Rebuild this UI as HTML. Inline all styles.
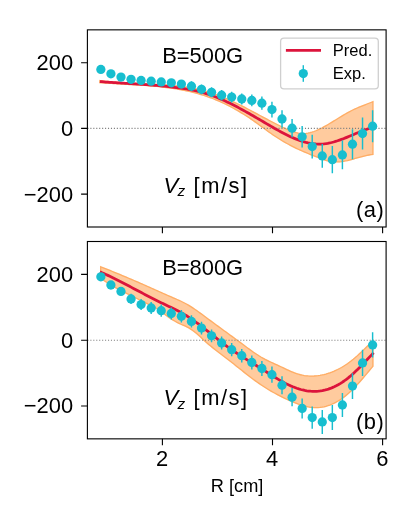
<!DOCTYPE html>
<html lang="en"><head><meta charset="utf-8"><title>Vz</title>
<style>html,body{margin:0;padding:0;background:#fff;}body{width:416px;height:520px;overflow:hidden;font-family:"Liberation Sans",sans-serif;}svg{display:block;will-change:transform;}</style></head>
<body>
<svg width="416" height="520" viewBox="0 0 416 520" font-family="'Liberation Sans', sans-serif" fill="#000">
<rect width="416" height="520" fill="#fff"/>
<g opacity="0.4"><path d="M99.90 80.58L101.86 80.83L103.83 81.07L105.79 81.29L107.76 81.49L109.72 81.69L111.68 81.87L113.65 82.03L115.61 82.19L117.58 82.33L119.54 82.47L121.50 82.59L123.47 82.71L125.43 82.82L127.40 82.92L129.36 83.02L131.32 83.11L133.29 83.20L135.25 83.29L137.22 83.38L139.18 83.46L141.14 83.54L143.11 83.62L145.07 83.71L147.04 83.79L149.00 83.88L150.96 83.97L152.93 84.07L154.89 84.17L156.86 84.28L158.82 84.39L160.78 84.51L162.75 84.65L164.71 84.79L166.68 84.94L168.64 85.10L170.61 85.27L172.57 85.46L174.53 85.66L176.50 85.87L178.46 86.10L180.43 86.35L182.39 86.61L184.35 86.89L186.32 87.19L188.28 87.51L190.25 87.85L192.21 88.21L194.17 88.59L196.14 88.99L198.10 89.42L200.07 89.88L202.03 90.35L203.99 90.86L205.96 91.39L207.92 91.95L209.89 92.53L211.85 93.15L213.81 93.80L215.78 94.48L217.74 95.19L219.71 95.93L221.67 96.70L223.63 97.49L225.60 98.32L227.56 99.17L229.53 100.04L231.49 100.94L233.45 101.85L235.42 102.79L237.38 103.74L239.35 104.71L241.31 105.69L243.27 106.69L245.24 107.70L247.20 108.72L249.17 109.74L251.13 110.78L253.09 111.82L255.06 112.87L257.02 113.92L258.99 114.97L260.95 116.03L262.91 117.08L264.88 118.13L266.84 119.17L268.81 120.22L270.77 121.25L272.73 122.27L274.70 123.29L276.66 124.29L278.63 125.29L280.59 126.26L282.55 127.23L284.52 128.17L286.48 129.08L288.45 129.94L290.41 130.74L292.37 131.47L294.34 132.11L296.30 132.66L298.27 133.09L300.23 133.39L302.19 133.56L304.16 133.57L306.12 133.43L308.09 133.14L310.05 132.71L312.02 132.16L313.98 131.50L315.94 130.74L317.91 129.89L319.87 128.96L321.84 127.97L323.80 126.93L325.76 125.84L327.73 124.71L329.69 123.56L331.66 122.37L333.62 121.17L335.58 119.96L337.55 118.75L339.51 117.54L341.48 116.34L343.44 115.16L345.40 114.01L347.37 112.89L349.33 111.80L351.30 110.77L353.26 109.79L355.22 108.86L357.19 107.98L359.15 107.13L361.12 106.32L363.08 105.53L365.04 104.77L367.01 104.01L368.97 103.26L370.94 102.51L372.90 101.75L372.90 154.45L370.94 154.68L368.97 154.99L367.01 155.37L365.04 155.80L363.08 156.28L361.12 156.80L359.15 157.34L357.19 157.89L355.22 158.45L353.26 159.01L351.30 159.54L349.33 160.05L347.37 160.52L345.40 160.94L343.44 161.31L341.48 161.60L339.51 161.81L337.55 161.93L335.58 161.95L333.62 161.86L331.66 161.65L329.69 161.31L327.73 160.86L325.76 160.31L323.80 159.68L321.84 158.98L319.87 158.24L317.91 157.47L315.94 156.69L313.98 155.90L312.02 155.11L310.05 154.32L308.09 153.52L306.12 152.71L304.16 151.88L302.19 151.02L300.23 150.15L298.27 149.24L296.30 148.31L294.34 147.35L292.37 146.36L290.41 145.34L288.45 144.29L286.48 143.20L284.52 142.09L282.55 140.94L280.59 139.76L278.63 138.54L276.66 137.29L274.70 136.00L272.73 134.67L270.77 133.31L268.81 131.91L266.84 130.49L264.88 129.05L262.91 127.60L260.95 126.15L258.99 124.71L257.02 123.28L255.06 121.88L253.09 120.50L251.13 119.15L249.17 117.83L247.20 116.54L245.24 115.28L243.27 114.04L241.31 112.83L239.35 111.65L237.38 110.50L235.42 109.38L233.45 108.29L231.49 107.23L229.53 106.20L227.56 105.19L225.60 104.22L223.63 103.28L221.67 102.36L219.71 101.48L217.74 100.63L215.78 99.81L213.81 99.02L211.85 98.26L209.89 97.53L207.92 96.82L205.96 96.15L203.99 95.50L202.03 94.88L200.07 94.29L198.10 93.72L196.14 93.18L194.17 92.65L192.21 92.16L190.25 91.68L188.28 91.23L186.32 90.80L184.35 90.39L182.39 90.00L180.43 89.63L178.46 89.28L176.50 88.94L174.53 88.62L172.57 88.32L170.61 88.04L168.64 87.77L166.68 87.51L164.71 87.27L162.75 87.04L160.78 86.82L158.82 86.62L156.86 86.42L154.89 86.24L152.93 86.07L150.96 85.90L149.00 85.75L147.04 85.60L145.07 85.46L143.11 85.32L141.14 85.19L139.18 85.07L137.22 84.95L135.25 84.83L133.29 84.72L131.32 84.61L129.36 84.50L127.40 84.39L125.43 84.28L123.47 84.17L121.50 84.06L119.54 83.95L117.58 83.83L115.61 83.72L113.65 83.59L111.68 83.47L109.72 83.34L107.76 83.20L105.79 83.05L103.83 82.90L101.86 82.74L99.90 82.58Z" fill="#ff7f0e" stroke="#ff7f0e" stroke-width="1.3" stroke-linejoin="miter"/></g>
<path d="M99.90 80.58L101.86 80.83L103.83 81.07L105.79 81.29L107.76 81.49L109.72 81.69L111.68 81.87L113.65 82.03L115.61 82.19L117.58 82.33L119.54 82.47L121.50 82.59L123.47 82.71L125.43 82.82L127.40 82.92L129.36 83.02L131.32 83.11L133.29 83.20L135.25 83.29L137.22 83.38L139.18 83.46L141.14 83.54L143.11 83.62L145.07 83.71L147.04 83.79L149.00 83.88L150.96 83.97L152.93 84.07L154.89 84.17L156.86 84.28L158.82 84.39L160.78 84.51L162.75 84.65L164.71 84.79L166.68 84.94L168.64 85.10L170.61 85.27L172.57 85.46L174.53 85.66L176.50 85.87L178.46 86.10L180.43 86.35L182.39 86.61L184.35 86.89L186.32 87.19L188.28 87.51L190.25 87.85L192.21 88.21L194.17 88.59L196.14 88.99L198.10 89.42L200.07 89.88L202.03 90.35L203.99 90.86L205.96 91.39L207.92 91.95L209.89 92.53L211.85 93.15L213.81 93.80L215.78 94.48L217.74 95.19L219.71 95.93L221.67 96.70L223.63 97.49L225.60 98.32L227.56 99.17L229.53 100.04L231.49 100.94L233.45 101.85L235.42 102.79L237.38 103.74L239.35 104.71L241.31 105.69L243.27 106.69L245.24 107.70L247.20 108.72L249.17 109.74L251.13 110.78L253.09 111.82L255.06 112.87L257.02 113.92L258.99 114.97L260.95 116.03L262.91 117.08L264.88 118.13L266.84 119.17L268.81 120.22L270.77 121.25L272.73 122.27L274.70 123.29L276.66 124.29L278.63 125.29L280.59 126.26L282.55 127.23L284.52 128.17L286.48 129.08L288.45 129.94L290.41 130.74L292.37 131.47L294.34 132.11L296.30 132.66L298.27 133.09L300.23 133.39L302.19 133.56L304.16 133.57L306.12 133.43L308.09 133.14L310.05 132.71L312.02 132.16L313.98 131.50L315.94 130.74L317.91 129.89L319.87 128.96L321.84 127.97L323.80 126.93L325.76 125.84L327.73 124.71L329.69 123.56L331.66 122.37L333.62 121.17L335.58 119.96L337.55 118.75L339.51 117.54L341.48 116.34L343.44 115.16L345.40 114.01L347.37 112.89L349.33 111.80L351.30 110.77L353.26 109.79L355.22 108.86L357.19 107.98L359.15 107.13L361.12 106.32L363.08 105.53L365.04 104.77L367.01 104.01L368.97 103.26L370.94 102.51L372.90 101.75L372.90 154.45L370.94 154.68L368.97 154.99L367.01 155.37L365.04 155.80L363.08 156.28L361.12 156.80L359.15 157.34L357.19 157.89L355.22 158.45L353.26 159.01L351.30 159.54L349.33 160.05L347.37 160.52L345.40 160.94L343.44 161.31L341.48 161.60L339.51 161.81L337.55 161.93L335.58 161.95L333.62 161.86L331.66 161.65L329.69 161.31L327.73 160.86L325.76 160.31L323.80 159.68L321.84 158.98L319.87 158.24L317.91 157.47L315.94 156.69L313.98 155.90L312.02 155.11L310.05 154.32L308.09 153.52L306.12 152.71L304.16 151.88L302.19 151.02L300.23 150.15L298.27 149.24L296.30 148.31L294.34 147.35L292.37 146.36L290.41 145.34L288.45 144.29L286.48 143.20L284.52 142.09L282.55 140.94L280.59 139.76L278.63 138.54L276.66 137.29L274.70 136.00L272.73 134.67L270.77 133.31L268.81 131.91L266.84 130.49L264.88 129.05L262.91 127.60L260.95 126.15L258.99 124.71L257.02 123.28L255.06 121.88L253.09 120.50L251.13 119.15L249.17 117.83L247.20 116.54L245.24 115.28L243.27 114.04L241.31 112.83L239.35 111.65L237.38 110.50L235.42 109.38L233.45 108.29L231.49 107.23L229.53 106.20L227.56 105.19L225.60 104.22L223.63 103.28L221.67 102.36L219.71 101.48L217.74 100.63L215.78 99.81L213.81 99.02L211.85 98.26L209.89 97.53L207.92 96.82L205.96 96.15L203.99 95.50L202.03 94.88L200.07 94.29L198.10 93.72L196.14 93.18L194.17 92.65L192.21 92.16L190.25 91.68L188.28 91.23L186.32 90.80L184.35 90.39L182.39 90.00L180.43 89.63L178.46 89.28L176.50 88.94L174.53 88.62L172.57 88.32L170.61 88.04L168.64 87.77L166.68 87.51L164.71 87.27L162.75 87.04L160.78 86.82L158.82 86.62L156.86 86.42L154.89 86.24L152.93 86.07L150.96 85.90L149.00 85.75L147.04 85.60L145.07 85.46L143.11 85.32L141.14 85.19L139.18 85.07L137.22 84.95L135.25 84.83L133.29 84.72L131.32 84.61L129.36 84.50L127.40 84.39L125.43 84.28L123.47 84.17L121.50 84.06L119.54 83.95L117.58 83.83L115.61 83.72L113.65 83.59L111.68 83.47L109.72 83.34L107.76 83.20L105.79 83.05L103.83 82.90L101.86 82.74L99.90 82.58Z" fill="none" stroke="#ff7f0e" stroke-opacity="0.4" stroke-width="1.3" stroke-linejoin="miter"/>
<line x1="87.4" x2="386.1" y1="128.43" y2="128.43" stroke="#808080" stroke-width="1.11" stroke-dasharray="1.11 1.83"/>
<path d="M99.90 81.58L101.86 81.73L103.83 81.88L105.79 82.03L107.76 82.17L109.72 82.30L111.68 82.44L113.65 82.57L115.61 82.69L117.58 82.82L119.54 82.94L121.50 83.06L123.47 83.18L125.43 83.30L127.40 83.42L129.36 83.54L131.32 83.67L133.29 83.79L135.25 83.91L137.22 84.04L139.18 84.17L141.14 84.30L143.11 84.43L145.07 84.57L147.04 84.71L149.00 84.85L150.96 85.00L152.93 85.16L154.89 85.32L156.86 85.48L158.82 85.66L160.78 85.84L162.75 86.02L164.71 86.22L166.68 86.42L168.64 86.63L170.61 86.85L172.57 87.08L174.53 87.31L176.50 87.56L178.46 87.82L180.43 88.09L182.39 88.38L184.35 88.68L186.32 89.00L188.28 89.34L190.25 89.71L192.21 90.09L194.17 90.50L196.14 90.93L198.10 91.40L200.07 91.89L202.03 92.41L203.99 92.97L205.96 93.56L207.92 94.19L209.89 94.85L211.85 95.54L213.81 96.27L215.78 97.03L217.74 97.82L219.71 98.63L221.67 99.48L223.63 100.35L225.60 101.25L227.56 102.17L229.53 103.11L231.49 104.08L233.45 105.07L235.42 106.07L237.38 107.10L239.35 108.14L241.31 109.20L243.27 110.27L245.24 111.36L247.20 112.46L249.17 113.57L251.13 114.69L253.09 115.81L255.06 116.95L257.02 118.09L258.99 119.24L260.95 120.39L262.91 121.55L264.88 122.71L266.84 123.86L268.81 125.02L270.77 126.16L272.73 127.30L274.70 128.43L276.66 129.54L278.63 130.63L280.59 131.70L282.55 132.75L284.52 133.77L286.48 134.76L288.45 135.72L290.41 136.64L292.37 137.52L294.34 138.36L296.30 139.16L298.27 139.91L300.23 140.60L302.19 141.24L304.16 141.83L306.12 142.36L308.09 142.82L310.05 143.21L312.02 143.54L313.98 143.80L315.94 143.98L317.91 144.08L319.87 144.10L321.84 144.03L323.80 143.88L325.76 143.65L327.73 143.33L329.69 142.95L331.66 142.49L333.62 141.98L335.58 141.41L337.55 140.79L339.51 140.12L341.48 139.42L343.44 138.68L345.40 137.91L347.37 137.12L349.33 136.31L351.30 135.49L353.26 134.67L355.22 133.84L357.19 133.02L359.15 132.22L361.12 131.42L363.08 130.65L365.04 129.91L367.01 129.20L368.97 128.52L370.94 127.90L372.90 127.32" fill="none" stroke="#dc143c" stroke-width="2.78" stroke-linecap="butt" stroke-linejoin="round"/>
<path d="M191.44 81.35V90.95M201.50 84.45V94.25M211.56 87.30V97.30M221.63 90.00V100.40M231.69 91.70V102.50M241.76 93.40V104.60M251.82 94.50V106.30M261.89 96.45V109.85M271.95 101.80V117.40M282.02 110.30V127.70M292.08 119.10V137.30M302.15 126.00V147.60M312.21 134.70V158.50M322.28 144.10V167.70M332.34 146.10V173.30M342.41 140.60V169.20M352.48 129.20V159.20M362.54 117.55V149.55M372.61 110.20V142.20" stroke="#17becf" stroke-width="1.45" fill="none"/>
<g fill="#17becf"><circle cx="100.85" cy="69.40" r="4.63"/><circle cx="110.91" cy="73.80" r="4.63"/><circle cx="120.98" cy="77.10" r="4.63"/><circle cx="131.04" cy="79.30" r="4.63"/><circle cx="141.11" cy="80.40" r="4.63"/><circle cx="151.17" cy="81.15" r="4.63"/><circle cx="161.24" cy="81.90" r="4.63"/><circle cx="171.31" cy="82.85" r="4.63"/><circle cx="181.37" cy="84.10" r="4.63"/><circle cx="191.44" cy="86.15" r="4.63"/><circle cx="201.50" cy="89.35" r="4.63"/><circle cx="211.56" cy="92.30" r="4.63"/><circle cx="221.63" cy="95.20" r="4.63"/><circle cx="231.69" cy="97.10" r="4.63"/><circle cx="241.76" cy="99.00" r="4.63"/><circle cx="251.82" cy="100.40" r="4.63"/><circle cx="261.89" cy="103.15" r="4.63"/><circle cx="271.95" cy="109.60" r="4.63"/><circle cx="282.02" cy="119.00" r="4.63"/><circle cx="292.08" cy="128.20" r="4.63"/><circle cx="302.15" cy="136.80" r="4.63"/><circle cx="312.21" cy="146.60" r="4.63"/><circle cx="322.28" cy="155.90" r="4.63"/><circle cx="332.34" cy="159.70" r="4.63"/><circle cx="342.41" cy="154.90" r="4.63"/><circle cx="352.48" cy="144.20" r="4.63"/><circle cx="362.54" cy="133.55" r="4.63"/><circle cx="372.61" cy="126.20" r="4.63"/></g>
<rect x="87.4" y="29.85" width="298.70000000000005" height="197.15" fill="none" stroke="#000" stroke-width="1.11"/>
<text x="73.1" y="70.21" text-anchor="end" font-size="21.9">200</text>
<text x="73.1" y="135.93" text-anchor="end" font-size="21.9">0</text>
<text x="73.1" y="201.64" text-anchor="end" font-size="21.9">−200</text>
<path d="M87.4 62.71h-6.3M87.4 128.43h-6.3M87.4 194.14h-6.3M162.40 227.0v6.3M272.50 227.0v6.3M382.60 227.0v6.3" stroke="#000" stroke-width="1.11" fill="none"/>
<text x="162.2" y="63.25" font-size="21.9">B=500G</text>
<text x="356.1" y="216.60" font-size="21.9" letter-spacing="0.45">(a)</text>
<g><title>Vz [m/s]</title>
<text x="163.5" y="192.5" font-size="22.2" font-style="italic">V</text>
<text x="177.5" y="196.1" font-size="15.4" font-style="italic">z</text>
<text x="193.6" y="192.5" font-size="21.9" textLength="53.5" lengthAdjust="spacing">[m/s]</text>
</g>
<g opacity="0.4"><path d="M100.70 266.75L102.66 267.53L104.62 268.32L106.57 269.11L108.53 269.90L110.49 270.70L112.45 271.50L114.41 272.30L116.37 273.10L118.32 273.91L120.28 274.72L122.24 275.54L124.20 276.36L126.16 277.18L128.12 278.01L130.07 278.83L132.03 279.67L133.99 280.50L135.95 281.35L137.91 282.19L139.87 283.04L141.82 283.89L143.78 284.75L145.74 285.61L147.70 286.48L149.66 287.35L151.62 288.22L153.57 289.10L155.53 289.98L157.49 290.86L159.45 291.74L161.41 292.62L163.36 293.50L165.32 294.37L167.28 295.24L169.24 296.10L171.20 296.96L173.16 297.80L175.11 298.65L177.07 299.50L179.03 300.37L180.99 301.27L182.95 302.21L184.91 303.21L186.86 304.26L188.82 305.39L190.78 306.60L192.74 307.87L194.70 309.19L196.66 310.56L198.61 311.97L200.57 313.40L202.53 314.84L204.49 316.29L206.45 317.74L208.41 319.18L210.36 320.62L212.32 322.06L214.28 323.50L216.24 324.93L218.20 326.36L220.15 327.79L222.11 329.23L224.07 330.66L226.03 332.08L227.99 333.51L229.95 334.94L231.90 336.38L233.86 337.81L235.82 339.24L237.78 340.68L239.74 342.12L241.70 343.57L243.65 345.02L245.61 346.47L247.57 347.92L249.53 349.36L251.49 350.78L253.45 352.17L255.40 353.51L257.36 354.81L259.32 356.05L261.28 357.22L263.24 358.32L265.19 359.37L267.15 360.37L269.11 361.32L271.07 362.25L273.03 363.16L274.99 364.06L276.94 364.95L278.90 365.85L280.86 366.76L282.82 367.69L284.78 368.62L286.74 369.54L288.69 370.44L290.65 371.31L292.61 372.13L294.57 372.90L296.53 373.60L298.49 374.22L300.44 374.75L302.40 375.19L304.36 375.53L306.32 375.79L308.28 375.97L310.24 376.06L312.19 376.07L314.15 376.00L316.11 375.85L318.07 375.62L320.03 375.33L321.98 374.96L323.94 374.53L325.90 374.02L327.86 373.45L329.82 372.81L331.78 372.10L333.73 371.32L335.69 370.46L337.65 369.53L339.61 368.53L341.57 367.45L343.53 366.29L345.48 365.05L347.44 363.72L349.40 362.32L351.36 360.84L353.32 359.27L355.28 357.61L357.23 355.88L359.19 354.08L361.15 352.24L363.11 350.35L365.07 348.45L367.03 346.53L368.98 344.62L370.94 342.72L372.90 340.86L372.90 366.36L370.94 368.67L368.98 370.99L367.03 373.32L365.07 375.65L363.11 377.96L361.15 380.24L359.19 382.48L357.23 384.66L355.28 386.76L353.32 388.79L351.36 390.71L349.40 392.54L347.44 394.26L345.48 395.87L343.53 397.38L341.57 398.78L339.61 400.08L337.65 401.28L335.69 402.38L333.73 403.37L331.78 404.26L329.82 405.05L327.86 405.73L325.90 406.31L323.94 406.79L321.98 407.16L320.03 407.43L318.07 407.59L316.11 407.65L314.15 407.61L312.19 407.47L310.24 407.24L308.28 406.91L306.32 406.51L304.36 406.03L302.40 405.48L300.44 404.86L298.49 404.19L296.53 403.46L294.57 402.69L292.61 401.87L290.65 401.02L288.69 400.14L286.74 399.23L284.78 398.30L282.82 397.35L280.86 396.38L278.90 395.38L276.94 394.35L274.99 393.29L273.03 392.21L271.07 391.09L269.11 389.94L267.15 388.76L265.19 387.54L263.24 386.28L261.28 384.99L259.32 383.66L257.36 382.28L255.40 380.87L253.45 379.43L251.49 377.97L249.53 376.47L247.57 374.96L245.61 373.43L243.65 371.88L241.70 370.33L239.74 368.77L237.78 367.21L235.82 365.65L233.86 364.09L231.90 362.54L229.95 361.00L227.99 359.47L226.03 357.95L224.07 356.44L222.11 354.95L220.15 353.45L218.20 351.96L216.24 350.45L214.28 348.93L212.32 347.37L210.36 345.79L208.41 344.16L206.45 342.47L204.49 340.73L202.53 338.93L200.57 337.10L198.61 335.29L196.66 333.56L194.70 331.95L192.74 330.46L190.78 329.12L188.82 327.92L186.86 326.87L184.91 325.94L182.95 325.08L180.99 324.23L179.03 323.32L177.07 322.34L175.11 321.29L173.16 320.15L171.20 318.93L169.24 317.62L167.28 316.23L165.32 314.77L163.36 313.27L161.41 311.79L159.45 310.35L157.49 309.00L155.53 307.77L153.57 306.68L151.62 305.70L149.66 304.77L147.70 303.87L145.74 302.96L143.78 302.00L141.82 301.01L139.87 300.00L137.91 298.99L135.95 297.98L133.99 296.98L132.03 296.00L130.07 295.03L128.12 294.06L126.16 293.10L124.20 292.12L122.24 291.14L120.28 290.13L118.32 289.11L116.37 288.06L114.41 286.98L112.45 285.86L110.49 284.70L108.53 283.49L106.57 282.24L104.62 280.92L102.66 279.54L100.70 278.10Z" fill="#ff7f0e" stroke="#ff7f0e" stroke-width="1.3" stroke-linejoin="miter"/></g>
<path d="M100.70 266.75L102.66 267.53L104.62 268.32L106.57 269.11L108.53 269.90L110.49 270.70L112.45 271.50L114.41 272.30L116.37 273.10L118.32 273.91L120.28 274.72L122.24 275.54L124.20 276.36L126.16 277.18L128.12 278.01L130.07 278.83L132.03 279.67L133.99 280.50L135.95 281.35L137.91 282.19L139.87 283.04L141.82 283.89L143.78 284.75L145.74 285.61L147.70 286.48L149.66 287.35L151.62 288.22L153.57 289.10L155.53 289.98L157.49 290.86L159.45 291.74L161.41 292.62L163.36 293.50L165.32 294.37L167.28 295.24L169.24 296.10L171.20 296.96L173.16 297.80L175.11 298.65L177.07 299.50L179.03 300.37L180.99 301.27L182.95 302.21L184.91 303.21L186.86 304.26L188.82 305.39L190.78 306.60L192.74 307.87L194.70 309.19L196.66 310.56L198.61 311.97L200.57 313.40L202.53 314.84L204.49 316.29L206.45 317.74L208.41 319.18L210.36 320.62L212.32 322.06L214.28 323.50L216.24 324.93L218.20 326.36L220.15 327.79L222.11 329.23L224.07 330.66L226.03 332.08L227.99 333.51L229.95 334.94L231.90 336.38L233.86 337.81L235.82 339.24L237.78 340.68L239.74 342.12L241.70 343.57L243.65 345.02L245.61 346.47L247.57 347.92L249.53 349.36L251.49 350.78L253.45 352.17L255.40 353.51L257.36 354.81L259.32 356.05L261.28 357.22L263.24 358.32L265.19 359.37L267.15 360.37L269.11 361.32L271.07 362.25L273.03 363.16L274.99 364.06L276.94 364.95L278.90 365.85L280.86 366.76L282.82 367.69L284.78 368.62L286.74 369.54L288.69 370.44L290.65 371.31L292.61 372.13L294.57 372.90L296.53 373.60L298.49 374.22L300.44 374.75L302.40 375.19L304.36 375.53L306.32 375.79L308.28 375.97L310.24 376.06L312.19 376.07L314.15 376.00L316.11 375.85L318.07 375.62L320.03 375.33L321.98 374.96L323.94 374.53L325.90 374.02L327.86 373.45L329.82 372.81L331.78 372.10L333.73 371.32L335.69 370.46L337.65 369.53L339.61 368.53L341.57 367.45L343.53 366.29L345.48 365.05L347.44 363.72L349.40 362.32L351.36 360.84L353.32 359.27L355.28 357.61L357.23 355.88L359.19 354.08L361.15 352.24L363.11 350.35L365.07 348.45L367.03 346.53L368.98 344.62L370.94 342.72L372.90 340.86L372.90 366.36L370.94 368.67L368.98 370.99L367.03 373.32L365.07 375.65L363.11 377.96L361.15 380.24L359.19 382.48L357.23 384.66L355.28 386.76L353.32 388.79L351.36 390.71L349.40 392.54L347.44 394.26L345.48 395.87L343.53 397.38L341.57 398.78L339.61 400.08L337.65 401.28L335.69 402.38L333.73 403.37L331.78 404.26L329.82 405.05L327.86 405.73L325.90 406.31L323.94 406.79L321.98 407.16L320.03 407.43L318.07 407.59L316.11 407.65L314.15 407.61L312.19 407.47L310.24 407.24L308.28 406.91L306.32 406.51L304.36 406.03L302.40 405.48L300.44 404.86L298.49 404.19L296.53 403.46L294.57 402.69L292.61 401.87L290.65 401.02L288.69 400.14L286.74 399.23L284.78 398.30L282.82 397.35L280.86 396.38L278.90 395.38L276.94 394.35L274.99 393.29L273.03 392.21L271.07 391.09L269.11 389.94L267.15 388.76L265.19 387.54L263.24 386.28L261.28 384.99L259.32 383.66L257.36 382.28L255.40 380.87L253.45 379.43L251.49 377.97L249.53 376.47L247.57 374.96L245.61 373.43L243.65 371.88L241.70 370.33L239.74 368.77L237.78 367.21L235.82 365.65L233.86 364.09L231.90 362.54L229.95 361.00L227.99 359.47L226.03 357.95L224.07 356.44L222.11 354.95L220.15 353.45L218.20 351.96L216.24 350.45L214.28 348.93L212.32 347.37L210.36 345.79L208.41 344.16L206.45 342.47L204.49 340.73L202.53 338.93L200.57 337.10L198.61 335.29L196.66 333.56L194.70 331.95L192.74 330.46L190.78 329.12L188.82 327.92L186.86 326.87L184.91 325.94L182.95 325.08L180.99 324.23L179.03 323.32L177.07 322.34L175.11 321.29L173.16 320.15L171.20 318.93L169.24 317.62L167.28 316.23L165.32 314.77L163.36 313.27L161.41 311.79L159.45 310.35L157.49 309.00L155.53 307.77L153.57 306.68L151.62 305.70L149.66 304.77L147.70 303.87L145.74 302.96L143.78 302.00L141.82 301.01L139.87 300.00L137.91 298.99L135.95 297.98L133.99 296.98L132.03 296.00L130.07 295.03L128.12 294.06L126.16 293.10L124.20 292.12L122.24 291.14L120.28 290.13L118.32 289.11L116.37 288.06L114.41 286.98L112.45 285.86L110.49 284.70L108.53 283.49L106.57 282.24L104.62 280.92L102.66 279.54L100.70 278.10Z" fill="none" stroke="#ff7f0e" stroke-opacity="0.4" stroke-width="1.3" stroke-linejoin="miter"/>
<line x1="87.4" x2="386.1" y1="340.18" y2="340.18" stroke="#808080" stroke-width="1.11" stroke-dasharray="1.11 1.83"/>
<path d="M100.00 271.79L101.97 272.66L103.94 273.55L105.91 274.45L107.87 275.38L109.84 276.32L111.81 277.27L113.78 278.24L115.75 279.22L117.72 280.22L119.68 281.22L121.65 282.23L123.62 283.25L125.59 284.28L127.56 285.31L129.53 286.35L131.49 287.39L133.46 288.43L135.43 289.48L137.40 290.52L139.37 291.56L141.34 292.60L143.30 293.64L145.27 294.67L147.24 295.70L149.21 296.72L151.18 297.73L153.15 298.73L155.11 299.72L157.08 300.70L159.05 301.67L161.02 302.63L162.99 303.57L164.96 304.50L166.92 305.44L168.89 306.38L170.86 307.32L172.83 308.28L174.80 309.26L176.77 310.26L178.73 311.29L180.70 312.36L182.67 313.46L184.64 314.61L186.61 315.80L188.58 317.05L190.54 318.35L192.51 319.69L194.48 321.08L196.45 322.51L198.42 323.97L200.39 325.46L202.35 326.97L204.32 328.51L206.29 330.06L208.26 331.63L210.23 333.21L212.20 334.79L214.16 336.37L216.13 337.95L218.10 339.52L220.07 341.07L222.04 342.60L224.01 344.11L225.97 345.58L227.94 347.03L229.91 348.44L231.88 349.82L233.85 351.17L235.82 352.50L237.78 353.80L239.75 355.09L241.72 356.35L243.69 357.61L245.66 358.85L247.63 360.08L249.59 361.31L251.56 362.53L253.53 363.75L255.50 364.97L257.47 366.20L259.44 367.43L261.40 368.68L263.37 369.93L265.34 371.20L267.31 372.46L269.28 373.73L271.25 374.99L273.21 376.23L275.18 377.46L277.15 378.66L279.12 379.83L281.09 380.97L283.06 382.07L285.02 383.13L286.99 384.13L288.96 385.08L290.93 385.97L292.90 386.81L294.87 387.57L296.83 388.28L298.80 388.92L300.77 389.48L302.74 389.98L304.71 390.41L306.68 390.76L308.64 391.03L310.61 391.23L312.58 391.35L314.55 391.38L316.52 391.33L318.49 391.19L320.45 390.96L322.42 390.64L324.39 390.23L326.36 389.72L328.33 389.12L330.30 388.43L332.26 387.64L334.23 386.76L336.20 385.79L338.17 384.73L340.14 383.58L342.11 382.33L344.07 381.00L346.04 379.57L348.01 378.06L349.98 376.45L351.95 374.76L353.92 372.97L355.88 371.11L357.85 369.19L359.82 367.21L361.79 365.19L363.76 363.13L365.73 361.06L367.69 358.98L369.66 356.90L371.63 354.84L373.60 352.80" fill="none" stroke="#dc143c" stroke-width="2.78" stroke-linecap="butt" stroke-linejoin="round"/>
<path d="M131.04 293.70V304.10M141.11 299.10V310.10M151.17 302.10V313.90M161.24 304.60V316.80M171.31 307.40V319.60M181.37 310.10V322.50M191.44 315.20V327.60M201.50 321.80V334.40M211.56 329.40V342.20M221.63 336.50V349.50M231.69 343.10V356.30M241.76 348.90V362.50M251.82 355.40V369.60M261.89 360.90V376.10M271.95 366.45V382.85M282.02 376.15V394.15M292.08 388.05V406.25M302.15 398.40V418.40M312.21 406.40V428.80M322.28 409.90V433.90M332.34 405.10V430.10M342.41 393.00V417.00M352.48 373.30V398.90M362.54 349.70V376.10M372.61 332.20V357.60" stroke="#17becf" stroke-width="1.45" fill="none"/>
<g fill="#17becf"><circle cx="100.85" cy="276.85" r="4.63"/><circle cx="110.91" cy="285.00" r="4.63"/><circle cx="120.98" cy="291.45" r="4.63"/><circle cx="131.04" cy="298.90" r="4.63"/><circle cx="141.11" cy="304.60" r="4.63"/><circle cx="151.17" cy="308.00" r="4.63"/><circle cx="161.24" cy="310.70" r="4.63"/><circle cx="171.31" cy="313.50" r="4.63"/><circle cx="181.37" cy="316.30" r="4.63"/><circle cx="191.44" cy="321.40" r="4.63"/><circle cx="201.50" cy="328.10" r="4.63"/><circle cx="211.56" cy="335.80" r="4.63"/><circle cx="221.63" cy="343.00" r="4.63"/><circle cx="231.69" cy="349.70" r="4.63"/><circle cx="241.76" cy="355.70" r="4.63"/><circle cx="251.82" cy="362.50" r="4.63"/><circle cx="261.89" cy="368.50" r="4.63"/><circle cx="271.95" cy="374.65" r="4.63"/><circle cx="282.02" cy="385.15" r="4.63"/><circle cx="292.08" cy="397.15" r="4.63"/><circle cx="302.15" cy="408.40" r="4.63"/><circle cx="312.21" cy="417.60" r="4.63"/><circle cx="322.28" cy="421.90" r="4.63"/><circle cx="332.34" cy="417.60" r="4.63"/><circle cx="342.41" cy="405.00" r="4.63"/><circle cx="352.48" cy="386.10" r="4.63"/><circle cx="362.54" cy="362.90" r="4.63"/><circle cx="372.61" cy="344.90" r="4.63"/></g>
<rect x="87.4" y="241.5" width="298.70000000000005" height="197.35000000000002" fill="none" stroke="#000" stroke-width="1.11"/>
<text x="73.1" y="281.89" text-anchor="end" font-size="21.9">200</text>
<text x="73.1" y="347.68" text-anchor="end" font-size="21.9">0</text>
<text x="73.1" y="413.46" text-anchor="end" font-size="21.9">−200</text>
<text x="162.10" y="465.95" text-anchor="middle" font-size="21.9">2</text>
<text x="272.20" y="465.95" text-anchor="middle" font-size="21.9">4</text>
<text x="382.30" y="465.95" text-anchor="middle" font-size="21.9">6</text>
<path d="M87.4 274.39h-6.3M87.4 340.18h-6.3M87.4 405.96h-6.3M162.40 438.85v6.3M272.50 438.85v6.3M382.60 438.85v6.3" stroke="#000" stroke-width="1.11" fill="none"/>
<text x="162.2" y="275.30" font-size="21.9">B=800G</text>
<text x="356.1" y="429.30" font-size="21.9" letter-spacing="0.45">(b)</text>
<g><title>Vz [m/s]</title>
<text x="163.5" y="404.9" font-size="22.2" font-style="italic">V</text>
<text x="177.5" y="408.5" font-size="15.4" font-style="italic">z</text>
<text x="193.6" y="404.9" font-size="21.9" textLength="53.5" lengthAdjust="spacing">[m/s]</text>
</g>
<rect x="280.6" y="38.2" width="97.7" height="50.6" rx="3.4" fill="#fff" fill-opacity="0.8" stroke="#cfcfcf" stroke-width="1.3"/>
<line x1="285.9" x2="321.0" y1="50.4" y2="50.4" stroke="#dc143c" stroke-width="2.78"/>
<line x1="303.3" x2="303.3" y1="65.2" y2="81.8" stroke="#17becf" stroke-width="1.45"/>
<circle cx="303.3" cy="73.6" r="4.63" fill="#17becf"/>
<text x="332.8" y="56.2" font-size="16.5">Pred.</text>
<text x="332.8" y="79.1" font-size="16.5">Exp.</text>
<text x="237.1" y="491.8" text-anchor="middle" font-size="18.2">R [cm]</text>
</svg>
</body></html>
